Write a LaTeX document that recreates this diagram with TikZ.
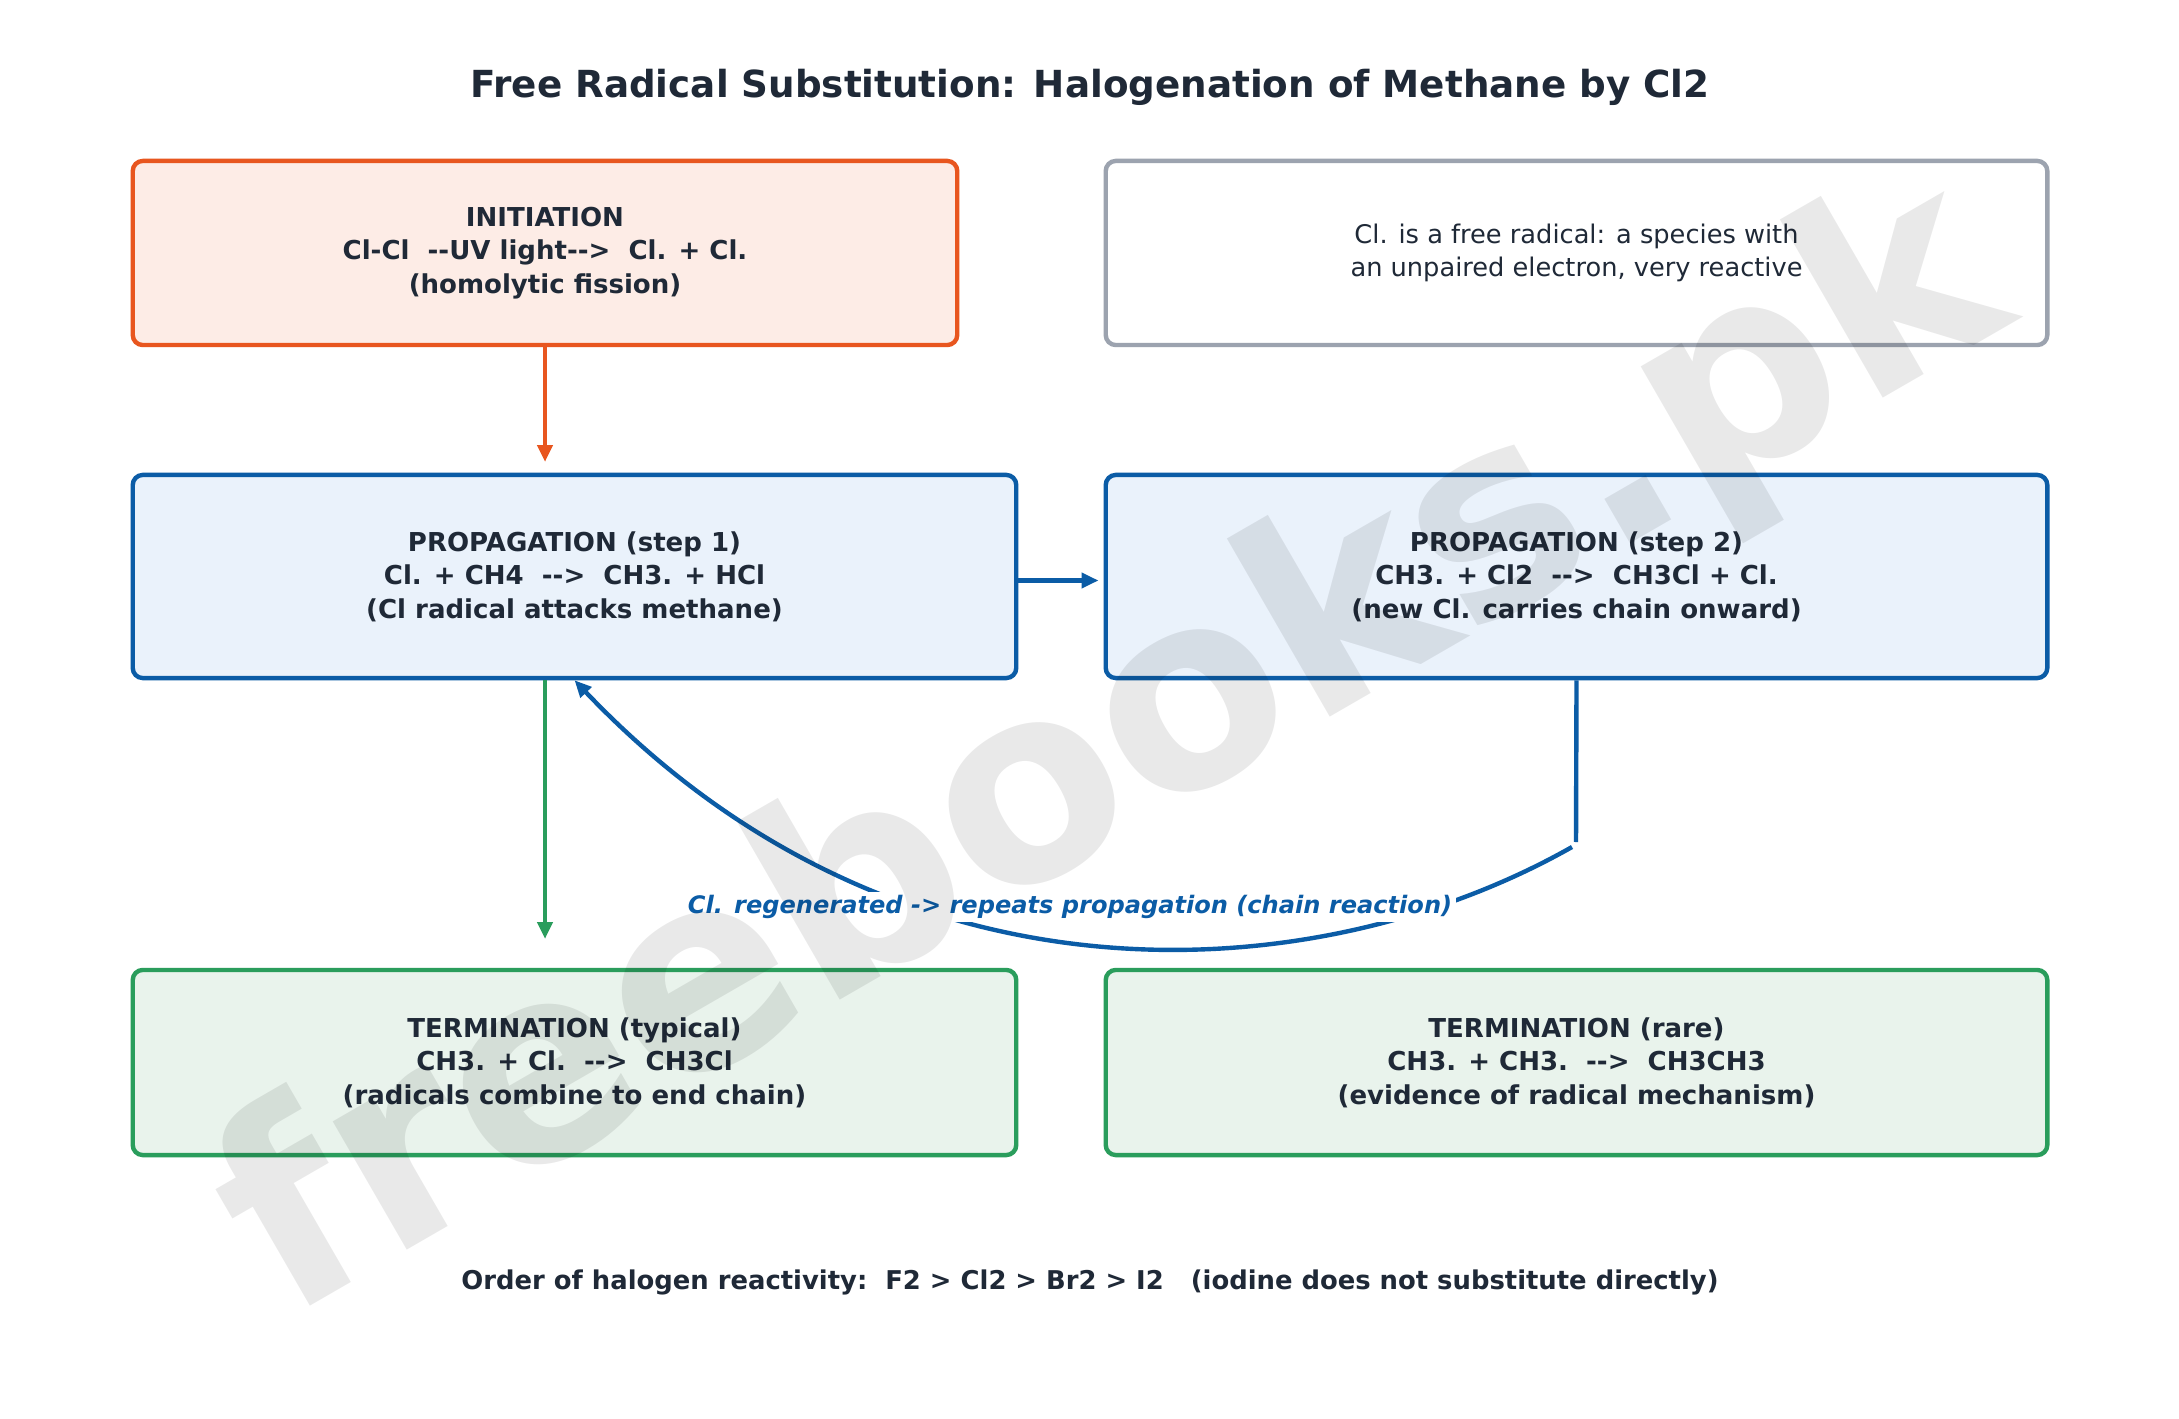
\documentclass[tikz,border=0pt]{standalone}
\usepackage{fontspec}
\setmainfont{DejaVu Sans}
\usetikzlibrary{arrows.meta}
\definecolor{inkdark}{HTML}{1F2937}
\definecolor{initline}{HTML}{E8561F}
\definecolor{initfill}{HTML}{FDECE6}
\definecolor{propline}{HTML}{0B5CA6}
\definecolor{propfill}{HTML}{EAF2FB}
\definecolor{termline}{HTML}{2A9D5C}
\definecolor{termfill}{HTML}{E9F3EC}
\definecolor{noteline}{HTML}{9CA3AF}
\newcommand{\dsh}{-\kern0pt-}
\tikzset{
  stagebox/.style={draw, line width=1.25pt, rounded corners=1mm, align=center,
    text=inkdark, inner sep=0pt, font=\fontsize{7.4}{9.5}\selectfont\bfseries},
  flowarrow/.style={line width=1.25pt, -{Triangle[length=4.8pt,width=4.2pt]}},
}

\begin{document}
\begin{tikzpicture}[x=0.01cm, y=-0.01cm]
	%%%%% START %%%%%
	\fill[white] (0,0) rectangle (2179,1419);
	\useasboundingbox (0,0) rectangle (2179,1419);
	
	\node[text=inkdark, font=\fontsize{10.6}{13}\selectfont\bfseries] (title) at (1090,87) {Free Radical Substitution: Halogenation of Methane by Cl2};
	
	\node[stagebox, draw=initline, fill=initfill, minimum width=8.24cm, minimum height=1.84cm] (init) at (545,253)
		{INITIATION\\Cl-Cl\ \ \dsh UV light\dsh>\ \ Cl. + Cl.\\(homolytic fission)};
	\node[stagebox, draw=noteline, fill=white, minimum width=9.41cm, minimum height=1.84cm, font=\fontsize{7.3}{9.5}\selectfont] (note) at (1576.5,253)
		{Cl. is a free radical: a species with\\an unpaired electron, very reactive};
	
	\node[stagebox, draw=propline, fill=propfill, minimum width=8.83cm, minimum height=2.03cm] (prop1) at (574.5,576.5)
		{PROPAGATION (step 1)\\Cl. + CH4\ \ \dsh>\ \ CH3. + HCl\\(Cl radical attacks methane)};
	\node[stagebox, draw=propline, fill=propfill, minimum width=9.41cm, minimum height=2.03cm] (prop2) at (1576.5,576.5)
		{PROPAGATION (step 2)\\CH3. + Cl2\ \ \dsh>\ \ CH3Cl + Cl.\\(new Cl. carries chain onward)};
	
	\node[stagebox, draw=termline, fill=termfill, minimum width=8.83cm, minimum height=1.85cm] (term1) at (574.5,1062.5)
		{TERMINATION (typical)\\CH3. + Cl.\ \ \dsh>\ \ CH3Cl\\(radicals combine to end chain)};
	\node[stagebox, draw=termline, fill=termfill, minimum width=9.41cm, minimum height=1.85cm] (term2) at (1576.5,1062.5)
		{TERMINATION (rare)\\CH3. + CH3.\ \ \dsh>\ \ CH3CH3\\(evidence of radical mechanism)};
	
	\coordinate (initend) at (545,462);
	\coordinate (termend) at (545,939);
	\coordinate (turn) at (1576,842);
	
	\draw[flowarrow, initline] (init.south -| initend) -- (initend);
	\draw[flowarrow, propline] ([yshift=-0.04cm]prop1.east) -- ([xshift=-0.05cm, yshift=-0.04cm]prop2.west);
	\draw[flowarrow, termline] (prop1.south -| termend) -- (termend);
	\draw[line width=1.25pt, propline] (prop2.south) -- (turn);
	\draw[flowarrow, propline] ([xshift=-0.04cm, yshift=-0.05cm]turn) .. controls (1320,990) and (900,1022) .. (prop1.south);
	
	\node[fill=white, inner sep=1pt, text=propline, font=\fontsize{6.85}{9}\selectfont\bfseries\itshape] (loop) at (1070,907)
		{Cl. regenerated -> repeats propagation (chain reaction)};
	
	\node[text=inkdark, font=\fontsize{7.35}{9}\selectfont\bfseries] (order) at (1090,1282)
		{Order of halogen reactivity:\ \ F2 > Cl2 > Br2 > I2\ \ \ (iodine does not substitute directly)};
	
	\node[rotate=30, text=black, opacity=0.085, font=\fontsize{77}{77}\selectfont\bfseries] (mark) at (1115,755) {freebooks.pk};
	%%%%% END %%%%%
\end{tikzpicture}
\end{document}
